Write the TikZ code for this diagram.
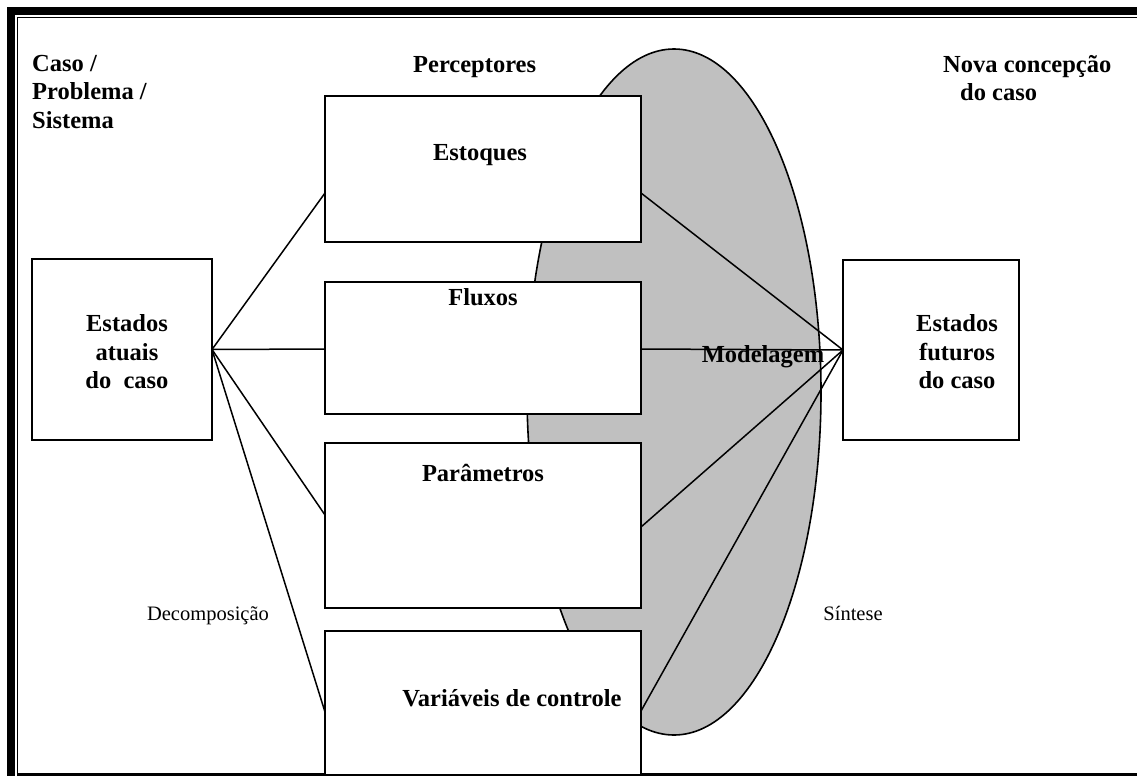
\documentclass[tikz,border=0pt]{standalone}
\usepackage{fontspec}
\setmainfont{Liberation Serif}
\usetikzlibrary{shapes.geometric}
\definecolor{modelgray}{RGB}{192,192,192}
\begin{document}
\begin{tikzpicture}[x=1pt,y=-1pt,
  box/.style={draw, line width=1.7pt, fill=white, inner sep=0pt, outer sep=0pt},
  bold/.style={font=\fontsize{24.5}{28.5}\selectfont\bfseries, inner sep=0pt},
  plain/.style={font=\fontsize{20.5}{24}\selectfont, inner sep=0pt},
  link/.style={line width=1.5pt},
]
\useasboundingbox (0,0) rectangle (1137,776);

% double frame: thick outer bars, thin inner rule
\fill (7,7) rectangle (1137,15);
\fill (7,7) rectangle (15,776);
\draw[line width=1.5pt] (17.5,776) -- (17.5,17.5) -- (1137,17.5);
\fill (17,773) rectangle (1137,776);

% modelling region
\node[ellipse, draw, line width=1.6pt, fill=modelgray, inner sep=0pt,
      minimum width=294pt, minimum height=686pt] (model) at (674,392) {};

% boxes
\node[box, minimum width=180pt, minimum height=181pt] (atuais) at (122,349.5) {};
\node[box, minimum width=316pt, minimum height=146pt] (est) at (483,169) {};
\node[box, minimum width=316pt, minimum height=132pt] (flux) at (483,348) {};
\node[box, minimum width=316pt, minimum height=165pt] (param) at (483,525.5) {};
\node[box, minimum width=316pt, minimum height=144pt] (ctrl) at (483,703) {};
\node[box, minimum width=176pt, minimum height=180pt] (futuros) at (931,350) {};

% decomposition fan
\draw[link] (atuais.east) -- ([yshift=-24pt]est.west);
\draw[link] (atuais.east) -- ([yshift=-1pt]flux.west);
\draw[link] (atuais.east) -- ([yshift=10.5pt]param.west);
\draw[link] (atuais.east) -- ([yshift=-9pt]ctrl.west);

% synthesis fan
\draw[link] (futuros.west) -- ([yshift=-24pt]est.east);
\draw[link] (futuros.west) -- ([yshift=-1pt]flux.east);
\draw[link] (futuros.west) -- ([yshift=-1.5pt]param.east);
\draw[link] (futuros.west) -- ([yshift=-8pt]ctrl.east);

% box texts
\node[bold, align=center] (tatuais) at (127,352) {Estados\\atuais\\do~~caso};
\node[bold, align=center] (tfuturos) at (957,352) {Estados\\futuros\\do caso};
\node[bold, anchor=base] (test) at (480,160) {Estoques};
\node[bold, anchor=base] (tflux) at (483,305) {Fluxos};
\node[bold, anchor=base] (tparam) at (483,481) {Parâmetros};
\node[bold, anchor=base] (tctrl) at (512,706) {Variáveis de controle};
\node[bold, anchor=base] (tmodel) at (763,362) {Modelagem};

% headings
\node[bold, align=left, anchor=north west] (caso) at (32,55) {Caso /\\Problema /\\Sistema};
\node[bold, anchor=base west] (percep) at (413,73) {Perceptores};
\node[bold, align=left, anchor=north west] (nova) at (943,55) {Nova concepção\\\hspace*{17pt}do caso};

% side labels
\node[plain, anchor=base] (decomp) at (208,620) {Decomposição};
\node[plain, anchor=base] (sintese) at (853,620) {Síntese};
\end{tikzpicture}
\end{document}
